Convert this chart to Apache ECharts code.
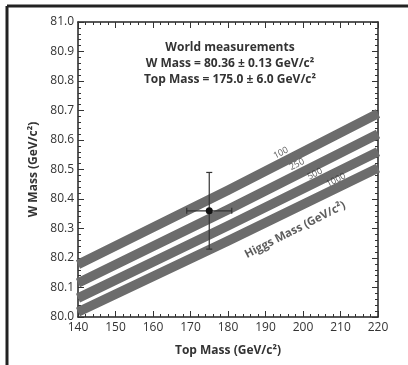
<!DOCTYPE html>
<html>
<head>
<meta charset="utf-8">
<script src="https://cdn.jsdelivr.net/npm/echarts@6/dist/echarts.min.js"></script>
<style>
  html, body { margin: 0; padding: 0; background: #fff; }
  #main { width: 408px; height: 365px; }
</style>
</head>
<body>
<div id="main"></div>
<script>
// 数据
var topMass = [140, 180, 220]
var band100 = [80.178, 80.430, 80.690]
var band250 = [80.115, 80.364, 80.620]
var band500 = [80.064, 80.309, 80.560]
var band1000 = [80.017, 80.258, 80.505]
var higgsLabels = ['100', '250', '500', '1000']
var higgsLabelPos = [[194.1, 80.556], [198.4, 80.517], [203.2, 80.485], [208.8, 80.464]]
var measurement = [175.0, 80.36, 6.0, 0.13] // top, W, top err, W err

var myChart = echarts.init(document.getElementById('main'))

var font = '"Open Sans", "DejaVu Sans", sans-serif'

function band(name, ys) {
  return {
    name: name,
    type: 'line',
    data: topMass.map(function (x, i) { return [x, ys[i]] }),
    symbol: 'none',
    silent: true,
    lineStyle: { color: '#6c6c6c', width: 9.5, cap: 'butt', join: 'round' },
    z: 2
  }
}

var axisCommon = {
  axisLine: { show: true, onZero: false, lineStyle: { color: '#222', width: 1.5 } },
  axisTick: { show: true, inside: true, length: 6, lineStyle: { color: '#333' } },
  minorTick: { show: true, splitNumber: 5, length: 3, lineStyle: { color: '#333' } },
  splitLine: { show: false }
}

var option = {
  backgroundColor: '#fff',
  animation: false,
  grid: { left: 78, right: 30, top: 22, bottom: 48 },
  xAxis: [
    Object.assign({
      type: 'value', min: 140, max: 220, interval: 10,
      name: 'Top Mass (GeV/c²)', nameLocation: 'middle', nameGap: 28,
      nameTextStyle: { fontFamily: font, fontWeight: 'bold', fontSize: 12, color: '#333' },
      axisLabel: { fontFamily: font, fontSize: 12, color: '#333', margin: 5 }
    }, axisCommon),
    Object.assign({
      type: 'value', min: 140, max: 220, interval: 10, position: 'top',
      axisLabel: { show: false }
    }, axisCommon)
  ],
  yAxis: [
    Object.assign({
      type: 'value', min: 80.0, max: 81.0, interval: 0.1,
      name: 'W Mass (GeV/c²)', nameLocation: 'middle', nameGap: 35,
      nameTextStyle: { fontFamily: font, fontWeight: 'bold', fontSize: 12, color: '#333' },
      axisLabel: {
        fontFamily: font, fontSize: 12, color: '#333', margin: 4,
        formatter: function (v) { return v.toFixed(1) }
      }
    }, axisCommon),
    Object.assign({
      type: 'value', min: 80.0, max: 81.0, interval: 0.1, position: 'right',
      axisLabel: { show: false }
    }, axisCommon)
  ],
  series: [
    band('100', band100),
    band('250', band250),
    band('500', band500),
    band('1000', band1000),
    {
      type: 'scatter',
      symbolSize: 0,
      silent: true,
      data: higgsLabels.map(function (t, i) { return { value: higgsLabelPos[i], name: t } }),
      label: {
        show: true, position: 'inside', rotate: 27,
        formatter: '{b}', fontFamily: font, fontSize: 9, color: '#333'
      },
      z: 5
    },
    {
      type: 'scatter',
      symbolSize: 0,
      silent: true,
      data: [{ value: [197.9, 80.295], name: 'Higgs Mass (GeV/c²)' }],
      label: {
        show: true, position: 'inside', rotate: 27,
        formatter: '{b}', fontFamily: font, fontWeight: 'bold', fontSize: 11.5, color: '#333'
      },
      z: 5
    },
    {
      // 误差棒
      type: 'custom',
      silent: true,
      data: [measurement],
      renderItem: function (params, api) {
        var x = api.value(0), y = api.value(1), ex = api.value(2), ey = api.value(3)
        var c = api.coord([x, y])
        var l = api.coord([x - ex, y]), r = api.coord([x + ex, y])
        var t = api.coord([x, y + ey]), b = api.coord([x, y - ey])
        var st = { stroke: '#333', lineWidth: 1.2 }
        var cap = 3
        return {
          type: 'group',
          children: [
            { type: 'line', shape: { x1: l[0], y1: l[1], x2: r[0], y2: r[1] }, style: st },
            { type: 'line', shape: { x1: t[0], y1: t[1], x2: b[0], y2: b[1] }, style: st },
            { type: 'line', shape: { x1: l[0], y1: l[1] - cap, x2: l[0], y2: l[1] + cap }, style: st },
            { type: 'line', shape: { x1: r[0], y1: r[1] - cap, x2: r[0], y2: r[1] + cap }, style: st },
            { type: 'line', shape: { x1: t[0] - cap, y1: t[1], x2: t[0] + cap, y2: t[1] }, style: st },
            { type: 'line', shape: { x1: b[0] - cap, y1: b[1], x2: b[0] + cap, y2: b[1] }, style: st },
            { type: 'circle', shape: { cx: c[0], cy: c[1], r: 3.5 }, style: { fill: '#111' } }
          ]
        }
      },
      z: 6
    }
  ],
  graphic: [
    { type: 'line', shape: { x1: 7, y1: 6, x2: 408, y2: 6 }, style: { stroke: '#222', lineWidth: 3 } },
    { type: 'line', shape: { x1: 7, y1: 6, x2: 7, y2: 365 }, style: { stroke: '#222', lineWidth: 3 } },
    {
      type: 'text', x: 230, y: 48,
      style: { text: 'World measurements', align: 'center', verticalAlign: 'middle', fontFamily: font, fontWeight: 'bold', fontSize: 12, fill: '#333' }
    },
    {
      type: 'text', x: 230, y: 64,
      style: { text: 'W Mass = 80.36 ± 0.13 GeV/c²', align: 'center', verticalAlign: 'middle', fontFamily: font, fontWeight: 'bold', fontSize: 12, fill: '#333' }
    },
    {
      type: 'text', x: 230, y: 80,
      style: { text: 'Top Mass = 175.0 ± 6.0 GeV/c²', align: 'center', verticalAlign: 'middle', fontFamily: font, fontWeight: 'bold', fontSize: 12, fill: '#333' }
    }
  ]
}

// 使用刚指定的配置项和数据显示图表
myChart.setOption(option)
</script>
</body>
</html>
